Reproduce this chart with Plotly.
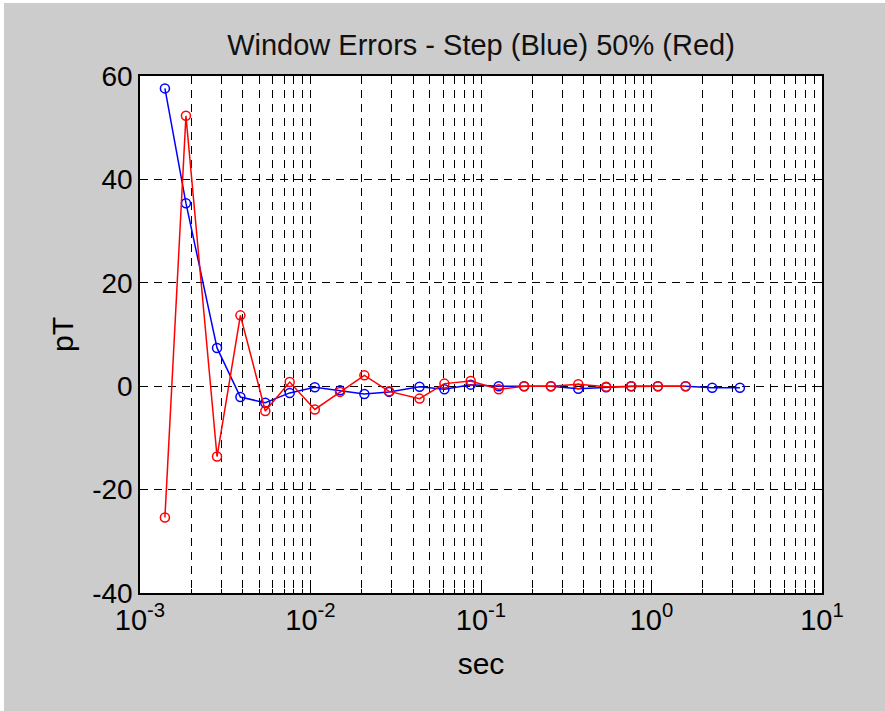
import plotly.graph_objects as go

# ---- data ----
sec = [1.40e-3, 1.86e-3, 2.83e-3, 3.88e-3, 5.43e-3, 7.55e-3, 1.06e-2, 1.49e-2,
       2.07e-2, 2.89e-2, 4.36e-2, 6.1e-2, 8.7e-2, 0.127, 0.179, 0.257, 0.372,
       0.542, 0.76, 1.09, 1.585, 2.27, 3.3]

step_blue = [57.6, 35.4, 7.4, -2.1, -3.2, -1.3, -0.2, -0.8, -1.5, -1.1, -0.1,
             -0.6, 0.3, 0.0, 0.0, 0.0, -0.5, -0.2, 0.0, 0.0, 0.0, -0.3, -0.3]

half_red = [-25.4, 52.3, -13.6, 13.7, -4.8, 0.8, -4.5, -1.1, 2.1, -1.0, -2.4,
            0.5, 1.0, -0.6, 0.0, 0.0, 0.4, -0.1, 0.0, 0.0, 0.0]

x_tickvals = [1e-3, 1e-2, 1e-1, 1e0, 1e1]
x_ticktext = ["10<sup>-3</sup>", "10<sup>-2</sup>", "10<sup>-1</sup>",
              "10<sup>0</sup>", "10<sup>1</sup>"]
x_minor = [k * 10.0 ** e for e in range(-3, 1) for k in range(2, 10)]
y_tickvals = [-40, -20, 0, 20, 40, 60]
y_ticktext = ["-40", "-20", "0", "20", "40", "60"]

FONT = "Liberation Sans, Arial, Helvetica, sans-serif"
BG = "#cccccc"

fig = go.Figure()
fig.add_trace(go.Scatter(
    x=sec, y=step_blue, mode="lines+markers", name="Step",
    line=dict(color="#0000ff", width=1.5),
    marker=dict(symbol="circle-open", size=9, color="#0000ff",
                line=dict(width=1.5, color="#0000ff")),
))
fig.add_trace(go.Scatter(
    x=sec[:len(half_red)], y=half_red, mode="lines+markers", name="50%",
    line=dict(color="#ff0000", width=1.5),
    marker=dict(symbol="circle-open", size=9, color="#ff0000",
                line=dict(width=1.5, color="#ff0000")),
))

fig.update_layout(
    width=885, height=711,
    paper_bgcolor=BG, plot_bgcolor="white",
    showlegend=False,
    margin=dict(l=140, r=63, t=76, b=118, pad=0),
    font=dict(family=FONT, color="black", size=28),
    title=dict(text="Window Errors - Step (Blue) 50% (Red)",
               font=dict(family=FONT, size=29, color="#111111"),
               x=0.5, xref="paper", xanchor="center",
               y=1 - 45 / 711, yref="container", yanchor="middle"),
    shapes=[
        dict(type="rect", xref="paper", yref="paper",
             x0=-140 / 682, x1=(4 - 140) / 682, y0=-118 / 517, y1=(517 + 76) / 517,
             fillcolor="white", line=dict(width=0), layer="above"),
        dict(type="rect", xref="paper", yref="paper",
             x0=-140 / 682, x1=(885 - 140) / 682, y0=(517 + 73) / 517, y1=(517 + 76) / 517,
             fillcolor="white", line=dict(width=0), layer="above"),
    ],
)

fig.update_xaxes(
    type="log", range=[-3, 1],
    tickmode="array", tickvals=x_tickvals, ticktext=x_ticktext,
    tickfont=dict(size=29),
    ticks="inside", ticklen=6, tickwidth=1.2, tickcolor="black",
    showline=True, linecolor="black", linewidth=1.5, mirror="allticks",
    showgrid=True, gridcolor="black", gridwidth=1, griddash="8px,6px",
    minor=dict(tickmode="array", tickvals=x_minor, ticks="inside", ticklen=4,
               tickcolor="black", tickwidth=1.2,
               showgrid=True, gridcolor="black", gridwidth=1, griddash="8px,6px"),
    zeroline=False,
    title=dict(text="sec", font=dict(size=30), standoff=18),
)
fig.update_yaxes(
    range=[-40, 60], tickmode="array", tickvals=y_tickvals, ticktext=y_ticktext,
    tickfont=dict(size=28),
    ticks="inside", ticklen=6, tickwidth=1.2, tickcolor="black",
    showline=True, linecolor="black", linewidth=1.5, mirror="allticks",
    showgrid=True, gridcolor="black", gridwidth=1, griddash="8px,6px",
    zeroline=False,
    ticklabelstandoff=0,
    title=dict(text="pT", font=dict(size=30), standoff=10),
)

fig.write_html(
    "out.html",
    config={"displayModeBar": False},
    post_script="document.body.style.margin='0';document.body.style.overflow='hidden';",
)
